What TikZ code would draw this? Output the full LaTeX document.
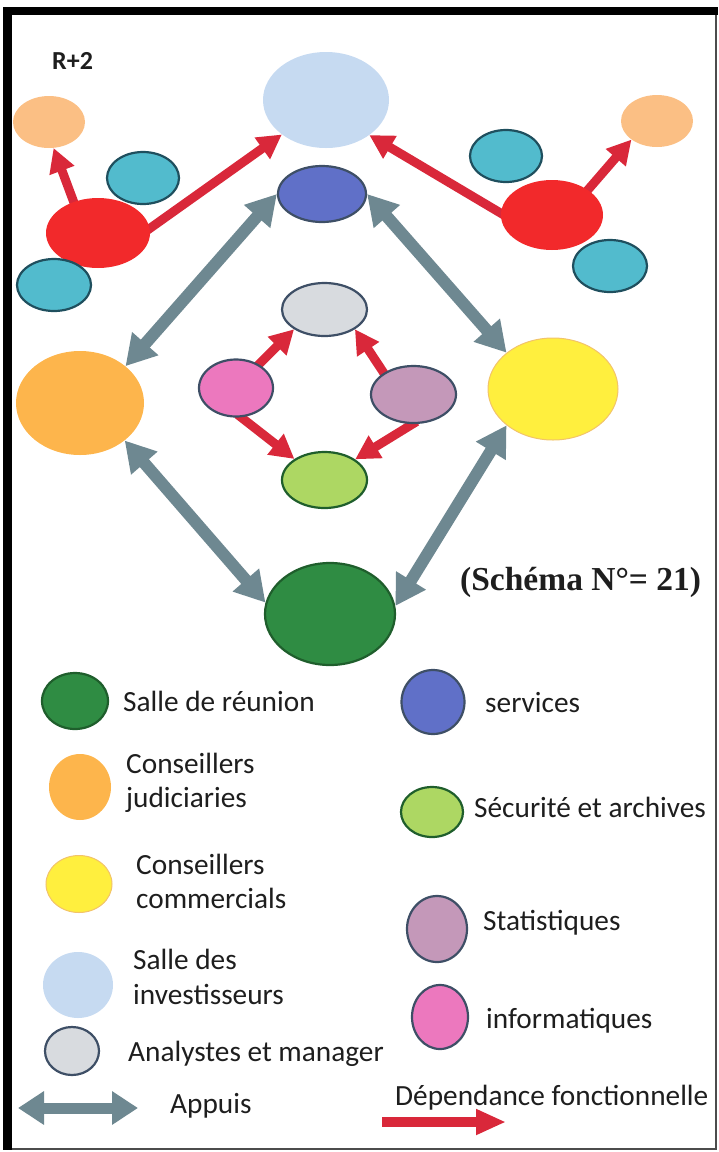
\documentclass[tikz,border=0pt]{standalone}
\usepackage{fontspec}
\setmainfont{Carlito}
\newfontfamily\schemafont{Liberation Serif}
\usetikzlibrary{arrows.meta,shapes.geometric}
\pgfdeclarelayer{background}
\pgfsetlayers{background,main}
\definecolor{cinv}{HTML}{C6DAF1}
\definecolor{corsm}{HTML}{FBBF84}
\definecolor{corbig}{HTML}{FDB54C}
\definecolor{ccyan}{HTML}{52BBCD}
\definecolor{ccyanl}{HTML}{1F4F5E}
\definecolor{cred}{HTML}{F2292B}
\definecolor{cblue}{HTML}{6070C8}
\definecolor{cgray}{HTML}{D8DBDF}
\definecolor{cpink}{HTML}{EC78BE}
\definecolor{cmauve}{HTML}{C498B9}
\definecolor{clgreen}{HTML}{ADD763}
\definecolor{cyel}{HTML}{FFEF3E}
\definecolor{cyell}{HTML}{F2C36A}
\definecolor{cdgreen}{HTML}{2F8C43}
\definecolor{cdgreenl}{HTML}{1F5E2C}
\definecolor{cline}{HTML}{3E4F66}
\definecolor{garr}{HTML}{6E8891}
\definecolor{rarr}{HTML}{D9283A}
\definecolor{ctext}{HTML}{1E1E1E}
\begin{document}
\begin{tikzpicture}[x=1pt,y=-1pt,
  blob/.style={ellipse, inner sep=0pt, draw=none},
  sz/.style 2 args={minimum width=#1pt, minimum height=#2pt},
  ol/.style={draw=#1, line width=2.2pt},
  garrow/.style={draw=garr, line width=12pt,
    {Triangle[length=30pt,width=33pt]}-{Triangle[length=30pt,width=33pt]}},
  rarrow/.style={draw=rarr, line width=9pt, -{Triangle[length=24pt,width=25pt]}, shorten <=-5pt},
  leg/.style={anchor=base west, inner sep=0pt, text=ctext, font=\fontsize{29.3}{34}\selectfont}
]
\useasboundingbox (0,0) rectangle (718,1152);
% frame
\draw[line width=2pt, draw=black!70] (715.5,8) -- (715.5,1149) -- (4,1149);
\draw[line width=8pt] (3,11) -- (718,11);
\draw[line width=9pt] (7.5,7) -- (7.5,1150);

\node[anchor=base west, inner sep=0pt, font=\fontsize{26}{30}\selectfont\bfseries, text=ctext] (r2) at (52,69) {R+2};

% top cluster
\node[blob, fill=cinv, sz={126}{96}] (inv) at (326,100) {};
\node[blob, fill=corsm, sz={72}{52}] (oL) at (49,122) {};
\node[blob, fill=ccyan, ol=ccyanl, sz={72}{52}] (cL1) at (143,178) {};
\node[blob, fill=cred, sz={104}{70}] (rL) at (98,233) {};
\node[blob, fill=ccyan, ol=ccyanl, sz={74}{52}] (cL2) at (54,285) {};
\node[blob, fill=cblue, ol=cline, sz={88}{56}] (blue) at (322,194) {};
\node[blob, fill=ccyan, ol=ccyanl, sz={72}{52}] (cR1) at (506,156) {};
\node[blob, fill=corsm, sz={72}{52}] (oR) at (657,121) {};
\node[blob, fill=cred, sz={102}{70}] (rR) at (552,215) {};
\node[blob, fill=ccyan, ol=ccyanl, sz={74}{52}] (cR2) at (610,266) {};

% middle
\node[blob, fill=cgray, ol=cline, sz={85}{53}] (gray) at (324.5,309.5) {};
\node[blob, fill=cpink, ol=cline, sz={74}{57}] (pink) at (236,388) {};
\node[blob, fill=cmauve, ol=cline, sz={85}{57}] (mauve) at (413.5,394.5) {};
\node[blob, fill=clgreen, ol=cdgreenl, sz={85}{56}] (lg) at (324.5,480) {};
\node[blob, fill=corbig, sz={128}{104}] (ob) at (80,403) {};
\node[blob, fill=cyel, draw=cyell, line width=1pt, sz={130}{102}] (yel) at (553,389) {};
\node[blob, fill=cdgreen, ol=cdgreenl, sz={130}{102}] (dg) at (330,614) {};

\node[anchor=base west, inner sep=0pt, font=\schemafont\bfseries\fontsize{33.5}{36}\selectfont, text=ctext] (sch) at (460,590) {(Schéma N°= 21)};

\begin{pgfonlayer}{background}
\draw[rarrow] (rL.5) -- (inv.218);
\draw[rarrow] (rL.128) -- (oL.280);
\draw[rarrow] (rR.178) -- (inv.321);
\draw[rarrow] (rR.35) -- (oR.216);
\draw[rarrow] (pink.46) -- (gray.213);
\draw[rarrow] (mauve.144) -- (gray.327);
\draw[rarrow] (pink.280) -- (lg.145);
\draw[rarrow] (mauve.268) -- (lg.34);
\end{pgfonlayer}
\draw[garrow] (blue.180) -- (ob.39);
\draw[garrow] (blue.0) -- (yel.142);
\draw[garrow] (ob.320) -- (dg.170);
\draw[garrow] (yel.218) -- (dg.7);

% legend
\node[blob, fill=cdgreen, ol=cdgreenl, sz={66}{56}] (l1) at (75,701) {};
\node[leg] (t1) at (123,711) {Salle de réunion};
\node[blob, fill=cblue, ol=cline, sz={63}{64}] (l2) at (433,702) {};
\node[leg] (t2) at (485,712) {services};
\node[blob, fill=corbig, sz={62}{66}] (l3) at (80,787) {};
\node[leg] (t3a) at (126,773) {Conseillers};
\node[leg] (t3b) at (126,807) {judiciaries};
\node[blob, fill=clgreen, ol=cdgreenl, sz={62}{50}] (l4) at (432,812) {};
\node[leg] (t4) at (474,817) {Sécurité et archives};
\node[blob, fill=cyel, draw=cyell, line width=1pt, sz={66}{57}] (l5) at (79,884) {};
\node[leg] (t5a) at (136,874) {Conseillers};
\node[leg] (t5b) at (136,908) {commercials};
\node[blob, fill=cmauve, ol=cline, sz={60}{66}] (l6) at (437,929) {};
\node[leg] (t6) at (483,930) {Statistiques};
\node[blob, fill=cinv, sz={70}{66}] (l7) at (78,985) {};
\node[leg] (t7a) at (133,969) {Salle des};
\node[leg] (t7b) at (133,1004) {investisseurs};
\node[blob, fill=cpink, ol=cline, sz={56}{64}] (l8) at (440,1017) {};
\node[leg] (t8) at (486,1028) {informatiques};
\node[blob, fill=cgray, ol=cline, sz={54}{48}] (l9) at (72,1051) {};
\node[leg] (t9) at (128,1061) {Analystes et manager};
\coordinate (ga1) at (18,1108);
\coordinate (ga2) at (138,1108);
\draw[draw=garr, line width=11pt, {Triangle[length=26pt,width=32pt]}-{Triangle[length=26pt,width=32pt]}] (ga1) -- (ga2);
\node[leg] (t10) at (170,1113) {Appuis};
\coordinate (ra1) at (382,1122);
\coordinate (ra2) at (506,1122);
\draw[draw=rarr, line width=10pt, -{Triangle[length=30pt,width=24pt]}] (ra1) -- (ra2);
\node[leg] (t11) at (395,1105) {Dépendance fonctionnelle};
\end{tikzpicture}
\end{document}
